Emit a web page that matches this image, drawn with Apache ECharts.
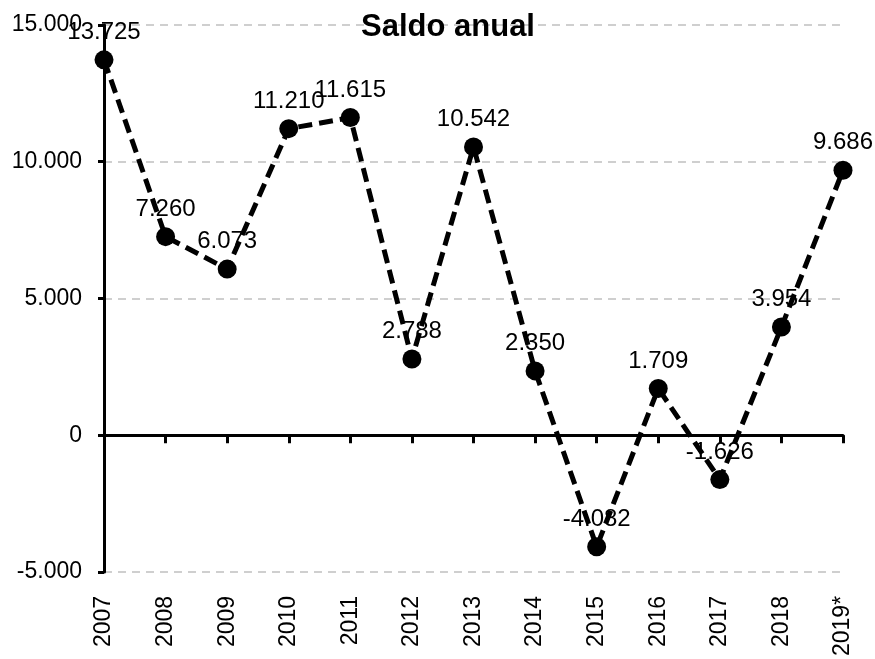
<!DOCTYPE html>
<html>
<head>
<meta charset="utf-8">
<script src="https://cdn.jsdelivr.net/npm/echarts@6/dist/echarts.min.js"></script>
<style>
  html, body { margin: 0; padding: 0; background: #fff; }
  #chart { width: 875px; height: 659px; }
</style>
</head>
<body>
<div id="chart"></div>
<script>
const years = ['2007', '2008', '2009', '2010', '2011', '2012', '2013', '2014', '2015', '2016', '2017', '2018', '2019*'];
const saldo = [13725, 7260, 6073, 11210, 11615, 2788, 10542, 2350, -4082, 1709, -1626, 3954, 9686];

// thousands with a dot, as in the source
const fmt = v => {
  const s = Math.abs(v).toString().replace(/\B(?=(\d{3})+(?!\d))/g, '.');
  return (v < 0 ? '-' : '') + s;
};

const chart = echarts.init(document.getElementById('chart'));

chart.setOption({
  animation: false,
  textStyle: { fontFamily: 'Liberation Sans, Arial, sans-serif' },
  title: {
    text: 'Saldo anual',
    left: 356,
    top: 7,
    textStyle: { fontSize: 31, fontWeight: 'bold', color: '#000' }
  },
  grid: { left: 104, right: 32, top: 25, bottom: 85 },
  xAxis: [{
    type: 'category',
    data: years,
    boundaryGap: false,
    axisLine: { onZero: true, lineStyle: { color: '#000', width: 3 } },
    axisTick: { show: true, alignWithLabel: true, length: 8, lineStyle: { color: '#000', width: 3 } },
    axisLabel: { show: false },
    splitLine: { show: false }
  }, {
    type: 'category',
    data: years,
    boundaryGap: false,
    position: 'bottom',
    axisLine: { show: false, onZero: false },
    axisTick: { show: false },
    axisLabel: { rotate: 90, fontSize: 23, color: '#000', margin: 24, interval: 0 },
    splitLine: { show: false }
  }],
  yAxis: {
    type: 'value',
    min: -5000,
    max: 15000,
    interval: 5000,
    axisLine: { show: true, lineStyle: { color: '#000', width: 3 } },
    axisTick: { show: true, length: 6, lineStyle: { color: '#000', width: 3 } },
    axisLabel: { formatter: fmt, fontSize: 23, color: '#000', margin: 22 },
    splitLine: { lineStyle: { color: '#c0c0c0', type: [8, 6], width: 1.5 } }
  },
  series: [{
    type: 'line',
    data: saldo,
    xAxisIndex: 0,
    symbol: 'circle',
    symbolSize: 19,
    lineStyle: { color: '#000', width: 5, type: [14, 7] },
    itemStyle: { color: '#000' },
    label: {
      show: true,
      position: 'top',
      distance: 6,
      fontSize: 24,
      color: '#000',
      formatter: p => fmt(p.value)
    },
    z: 5
  }]
});
</script>
</body>
</html>
